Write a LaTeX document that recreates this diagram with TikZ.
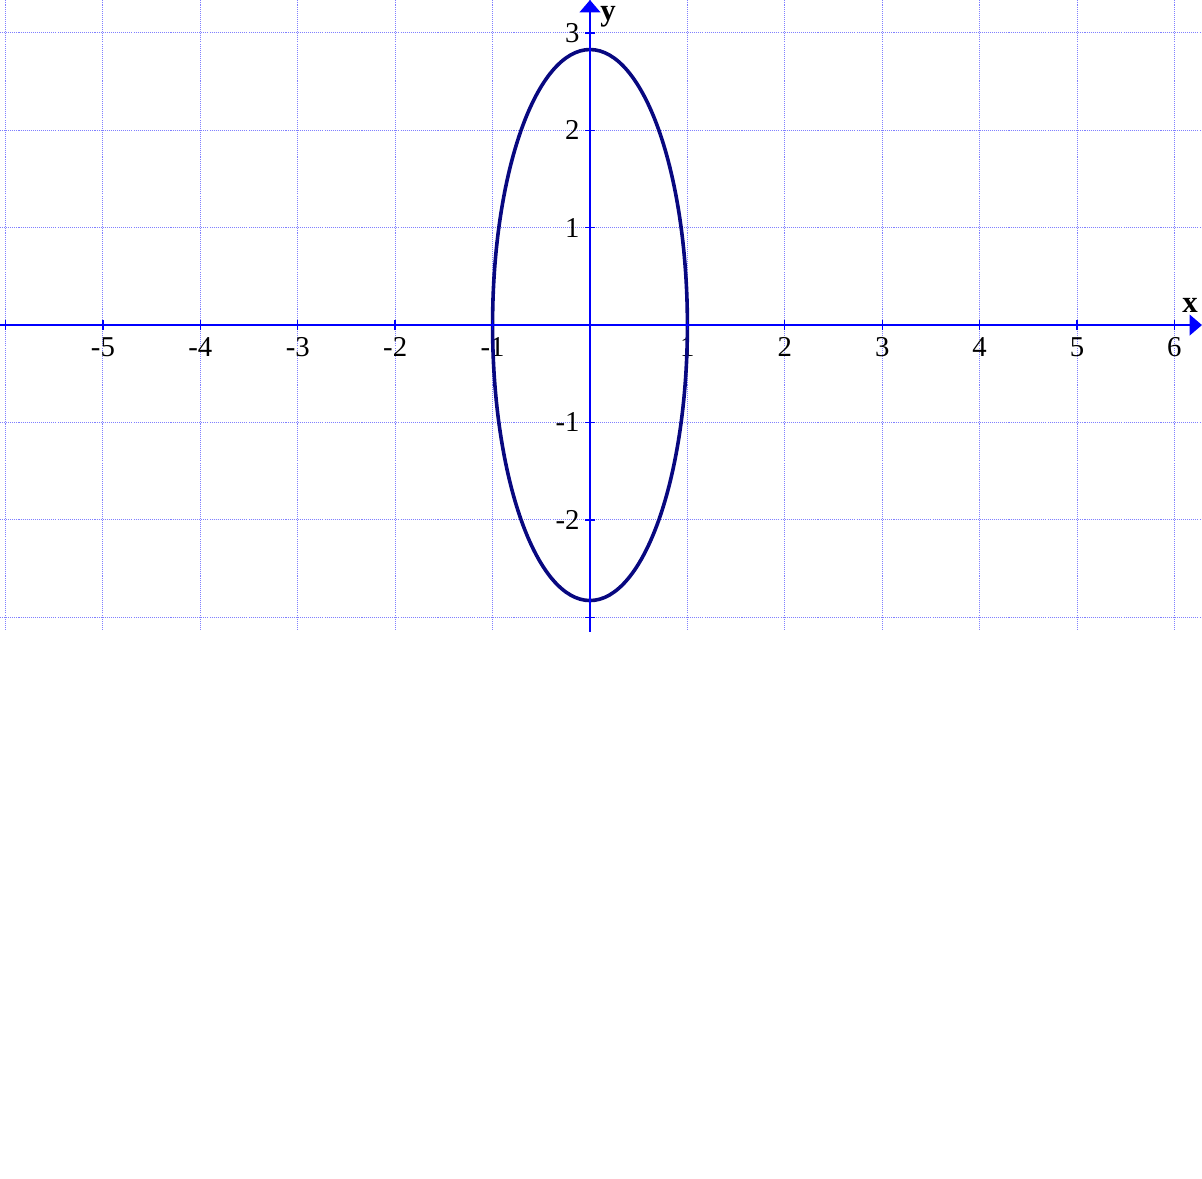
\documentclass[tikz,border=0pt]{standalone}
\usepackage{fontspec}
\setmainfont{Liberation Serif}
\usetikzlibrary{arrows.meta}
\definecolor{gridblue}{RGB}{128,128,255}
\definecolor{curvenavy}{RGB}{8,8,128}
\tikzset{
  gridline/.style={gridblue, line width=0.3pt, dash pattern=on 0.3pt off 0.3pt},
  axisline/.style={blue, line width=0.65pt, -{Triangle[width=6pt,length=3.6pt]}},
  ticklabel/.style={inner sep=0pt, font=\fontsize{8.4}{10}\selectfont},
  axislabel/.style={inner sep=0pt, font=\fontsize{9}{10}\selectfont\bfseries}
}
\begin{document}
\begin{tikzpicture}
\useasboundingbox (-6.057,-8.758) rectangle (6.283,3.337);
% grid
\foreach \gx in {-6,...,6} \draw[gridline] (\gx,-3.13) -- (\gx,3.337);
\foreach \gy in {-3,...,3} \draw[gridline] (-6.057,\gy) -- (6.283,\gy);
% tick labels
\foreach \lx in {-5,-4,-3,-2,-1,1,2,3,4,5,6}
  \node[ticklabel, anchor=north] (xl\lx) at (\lx,-0.12) {\lx};
\foreach \ly in {-2,-1,1,2,3}
  \node[ticklabel, anchor=east] (yl\ly) at (-0.1,\ly) {\ly};
% curve
\draw[curvenavy, line width=1.05pt] (0,0) ellipse [x radius=1, y radius={2*sqrt(2)}];
% axes
\draw[axisline] (-6.057,0) -- (6.283,0);
\draw[axisline] (0,-3.15) -- (0,3.337);
\foreach \tx in {-6,...,6} \draw[blue, line width=0.4pt] (\tx,-0.05) -- (\tx,0.05);
\foreach \ty in {-3,...,3} \draw[blue, line width=0.4pt] (-0.05,\ty) -- (0.05,\ty);
\node[axislabel] (xname) at (6.16,0.205) {x};
\node[axislabel] (yname) at (0.185,3.16) {y};
\end{tikzpicture}
\end{document}
